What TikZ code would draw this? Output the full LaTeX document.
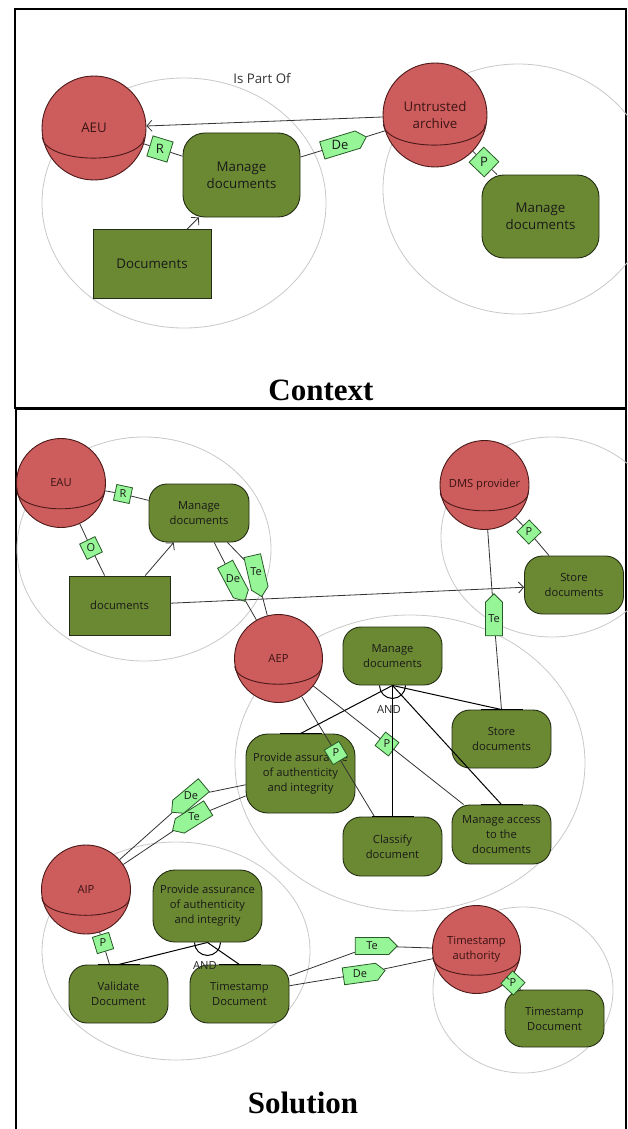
\documentclass[tikz,border=0pt]{standalone}
\usepackage{fontspec}
\setmainfont{Open Sans}
\newfontfamily\headfont{Liberation Serif}
\usetikzlibrary{shapes.symbols,arrows.meta}

\definecolor{sphfill}{RGB}{205,92,92}
\definecolor{sphedge}{RGB}{75,25,25}
\definecolor{sphtext}{RGB}{60,20,20}
\definecolor{goalfill}{RGB}{107,137,50}
\definecolor{goaledge}{RGB}{35,45,20}
\definecolor{tagfill}{RGB}{150,245,150}
\definecolor{tagedge}{RGB}{40,90,40}
\definecolor{bound}{RGB}{200,200,200}
\definecolor{link}{RGB}{50,50,50}

\newcommand\ctxfont{\fontsize{13.3pt}{17pt}\selectfont}
\newcommand\solfont{\fontsize{11.2pt}{15pt}\selectfont}
\newcommand\ctxtagfont{\fontsize{13pt}{14pt}\selectfont}
\newcommand\soltagfont{\fontsize{11pt}{12pt}\selectfont}
% equator line of an actor sphere: node, x radius, y radius
\newcommand\belt[3]{\draw[draw=sphedge,line width=0.9pt] (#1.190) arc[start angle=180,end angle=360,x radius=#2pt,y radius=#3pt];}

\tikzset{
  actor/.style={circle,fill=sphfill,draw=sphedge,line width=0.9pt,inner sep=0pt,text=sphtext,align=center},
  goal/.style={rectangle,rounded corners=18pt,fill=goalfill,draw=goaledge,line width=0.9pt,inner sep=0pt,align=center,text=black!90,minimum width=99pt,minimum height=58pt},
  resource/.style={rectangle,fill=goalfill,draw=goaledge,line width=0.9pt,inner sep=0pt,align=center,text=black!90},
  bnd/.style={draw=bound,line width=0.8pt},
  lnk/.style={draw=link,line width=0.8pt},
  andline/.style={draw=black,line width=1pt},
  topbar/.style={draw=black,line width=1.8pt},
  flow/.style={-{Straight Barb[length=5pt,width=11pt]}},
  tagsq/.style={rectangle,fill=tagfill,draw=tagedge,line width=0.8pt,inner sep=0pt,minimum size=17pt},
  tagpent/.style={signal,signal to=east,signal pointer angle=90,fill=tagfill,draw=tagedge,line width=0.8pt,inner sep=0pt,minimum width=42pt,minimum height=17pt},
  tagtxt/.style={inner sep=0pt,text=black!90,font=\soltagfont},
  title/.style={anchor=base,font=\headfont\bfseries\fontsize{31pt}{31pt}\selectfont}
}

\begin{document}
\begin{tikzpicture}[x=1pt,y=-1pt,font=\solfont]
\useasboundingbox (0,0) rectangle (628,1129);

% ---------- frames ----------
\draw[line width=2pt] (15,9) rectangle (626,408);
\draw[line width=2pt] (16,1135) -- (16,409) -- (626,409) -- (626,1135);

% ---------- context: actor boundaries ----------
\draw[bnd] (184,203) ellipse[x radius=142pt,y radius=125pt];
\draw[bnd] (518,189) ellipse[x radius=135pt,y radius=125pt];

% ---------- context: elements ----------
\node[actor,minimum size=104pt,font=\ctxfont] (aeu) at (94,128) {AEU};
\belt{aeu}{51}{21}
\node[actor,minimum size=104pt,font=\ctxfont] (untr) at (435,115) {Untrusted\\archive};
\belt{untr}{51}{21}
\node[goal,minimum width=117pt,minimum height=84pt,rounded corners=22pt,font=\ctxfont] (cmng) at (241.5,175) {Manage\\documents};
\node[resource,minimum width=118pt,minimum height=69pt,font=\ctxfont] (cdocs) at (152,264) {Documents};
\node[goal,minimum width=117pt,minimum height=83pt,rounded corners=22pt,font=\ctxfont] (cmng2) at (540.5,216.5) {Manage\\documents};
\node[font=\ctxfont,text=black!80] (ispart) at (262,78) {Is Part Of};

\node[tagsq,minimum size=21pt,rotate=-17] (cR) at (160,149) {};
\node[tagpent,minimum width=46pt,minimum height=18pt,rotate=17] (cDe) at (340,145) {};
\node[tagsq,minimum size=21pt,rotate=-44] (cP) at (484,162) {};
\node[tagtxt,font=\ctxtagfont] (cRt) at (cR) {R};
\node[tagtxt,font=\ctxtagfont] (cDet) at (cDe) {De};
\node[tagtxt,font=\ctxtagfont] (cPt) at (cP) {P};

\draw[lnk,flow] (untr) -- (aeu);
\draw[lnk] (aeu) -- (cR) -- (cmng);
\draw[lnk,flow] (cdocs) -- (cmng);
\draw[lnk] (cmng) -- (cDe) -- (untr);
\draw[lnk] (untr) -- (cP) -- (cmng2);

\node[title] (ttlctx) at (321,400) {Context};

% ---------- solution: actor boundaries ----------
\draw[bnd] (144,549) ellipse[x radius=127pt,y radius=112pt];
\draw[bnd] (552,537) ellipse[x radius=111pt,y radius=100pt];
\draw[bnd] (410,763) ellipse[x radius=175pt,y radius=148pt];
\draw[bnd] (176,951) ellipse[x radius=134pt,y radius=109pt];
\draw[bnd] (523,990) ellipse[x radius=90pt,y radius=83pt];

% ---------- solution: actors ----------
\node[actor,minimum size=89pt] (eau) at (61,483) {EAU};
\belt{eau}{44}{18}
\node[actor,minimum size=89pt] (dms) at (484.5,485) {DMS provider};
\belt{dms}{44}{18}
\node[actor,minimum size=88pt] (aep) at (278.5,658.5) {AEP};
\belt{aep}{43.5}{18}
\node[actor,minimum size=89pt] (aip) at (86,889.5) {AIP};
\belt{aip}{44}{18}
\node[actor,minimum size=88pt] (tsa) at (476.5,949.5) {Timestamp\\authority};
\belt{tsa}{43.5}{18}

% ---------- solution: goals and resources ----------
\node[goal,minimum width=100pt] (mngA) at (199,513) {Manage\\documents};
\node[resource,minimum width=101pt,minimum height=59pt] (docs) at (119.5,605.5) {documents};
\node[goal] (storeA) at (574,585) {Store\\documents};
\node[goal] (mngB) at (392.5,656) {Manage\\documents};
\node[goal] (storeB) at (501.5,739) {Store\\documents};
\node[goal,minimum width=109pt,minimum height=79pt,rounded corners=22pt] (provA) at (300.5,773.5) {Provide assurance\\of authenticity\\and integrity};
\node[goal,minimum height=59pt] (clas) at (392.5,846.5) {Classify\\document};
\node[goal,minimum height=59pt] (macc) at (501.5,834.5) {Manage access\\to the\\documents};
\node[goal,minimum width=109pt,minimum height=72pt,rounded corners=22pt] (provB) at (207.5,906) {Provide assurance\\of authenticity\\and integrity};
\node[goal] (valid) at (118.5,994) {Validate\\Document};
\node[goal] (tsdA) at (239.5,994) {Timestamp\\Document};
\node[goal,minimum height=57pt] (tsdB) at (554.5,1018.5) {Timestamp\\Document};

% ---------- solution: dependency and contribution tags ----------
\node[tagsq,minimum size=16pt,rotate=-12] (sR) at (123,494) {};
\node[tagsq,rotate=-64] (sO) at (91,548) {};
\node[tagpent,rotate=-62] (sDe1) at (233,579) {};
\node[tagpent,rotate=-77] (sTe1) at (256,572) {};
\node[tagsq,rotate=-46] (sP1) at (529,532) {};
\node[tagpent,rotate=90] (sTe2) at (494,619) {};
\node[tagsq,rotate=-59] (sP2) at (336,753) {};
\node[tagsq,rotate=-38] (sP3) at (387,744) {};
\node[tagpent,rotate=220] (sDe2) at (191,796) {};
\node[tagpent,rotate=212] (sTe3) at (194,817) {};
\node[tagsq,rotate=-73] (sP4) at (103,943) {};
\node[tagpent] (sTe4) at (372,946) {};
\node[tagpent,rotate=8] (sDe3) at (360,974) {};
\node[tagsq,rotate=-43] (sP5) at (513,983) {};

\node[tagtxt] (sRt) at (sR) {R};
\node[tagtxt] (sOt) at (sO) {O};
\node[tagtxt] (sDe1t) at (sDe1) {De};
\node[tagtxt] (sTe1t) at (sTe1) {Te};
\node[tagtxt] (sP1t) at (sP1) {P};
\node[tagtxt] (sTe2t) at (sTe2) {Te};
\node[tagtxt] (sP2t) at (sP2) {P};
\node[tagtxt] (sP3t) at (sP3) {P};
\node[tagtxt] (sDe2t) at (sDe2) {De};
\node[tagtxt] (sTe3t) at (sTe3) {Te};
\node[tagtxt] (sP4t) at (sP4) {P};
\node[tagtxt] (sTe4t) at (sTe4) {Te};
\node[tagtxt] (sDe3t) at (sDe3) {De};
\node[tagtxt] (sP5t) at (sP5) {P};

% ---------- solution: links ----------
\draw[lnk] (eau) -- (sR) -- (mngA);
\draw[lnk] (eau) -- (sO) -- (docs);
\draw[lnk,flow] (docs) -- (mngA);
\draw[lnk,flow] (docs) -- (storeA);
\draw[lnk] (mngA) -- (sDe1) -- (aep);
\draw[lnk] (mngA) -- (sTe1) -- (aep);
\draw[lnk] (dms) -- (sP1) -- (storeA);
\draw[lnk] (dms) -- (sTe2) -- (storeB.north);
\draw[lnk] (aep) -- (sP2) -- (clas);
\draw[lnk] (aep) -- (sP3) -- (macc);
\draw[lnk] (provA) -- (sDe2) -- (aip);
\draw[lnk] (provA) -- (sTe3) -- (aip);
\draw[lnk] (aip) -- (sP4) -- (valid);
\draw[lnk] (tsdA) -- (sTe4) -- (tsa);
\draw[lnk] (tsdA) -- (sDe3) -- (tsa);
\draw[lnk] (tsa) -- (sP5) -- (tsdB);

% AND decomposition of the AEP goal
\draw[andline] (mngB.south) -- (provA.north);
\draw[andline] (mngB.south) -- (clas.north);
\draw[andline] (mngB.south) -- (macc.north);
\draw[andline] (mngB.south) -- (storeB.north);
\draw[andline] ([xshift=-13pt]mngB.south) arc[start angle=180,end angle=360,radius=13pt];
\node[text=black!85] (andA) at (389,709) {AND};
\foreach \n in {provA,clas,macc,storeB}
  \draw[topbar] ([xshift=-21pt]\n.north) -- ([xshift=21pt]\n.north);

% AND decomposition of the AIP goal
\draw[andline] (provB.south) -- (valid.north);
\draw[andline] (provB.south) -- (tsdA.north);
\draw[andline] ([xshift=-13pt]provB.south) arc[start angle=180,end angle=360,radius=13pt];
\foreach \n in {valid,tsdA}
  \draw[topbar] ([xshift=-21pt]\n.north) -- ([xshift=21pt]\n.north);
\node[text=black!85] (andB) at (205,965) {AND};

\node[title] (ttlsol) at (303,1113) {Solution};
\end{tikzpicture}
\end{document}
